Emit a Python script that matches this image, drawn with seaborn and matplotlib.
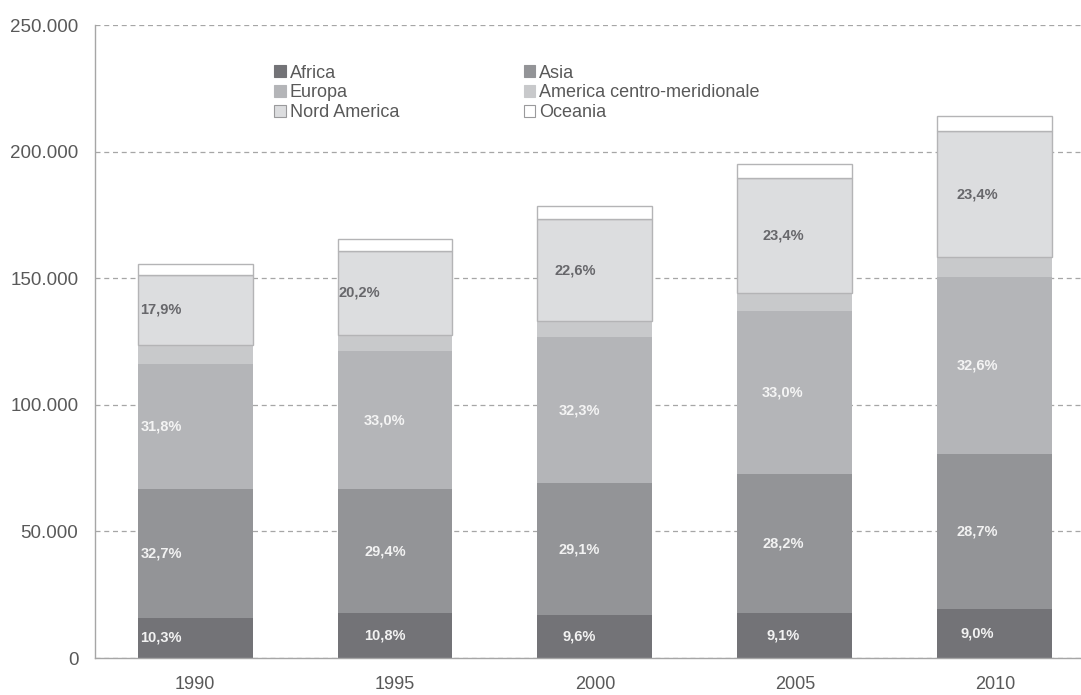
import matplotlib
matplotlib.use("Agg")
import matplotlib.pyplot as plt
import matplotlib.ticker as mticker
from matplotlib.patches import Patch
import numpy as np
import pandas as pd
import seaborn as sns

# Dati
anni = ["1990", "1995", "2000", "2005", "2010"]
africa = [16000, 17900, 17100, 17800, 19300]
asia = [50800, 48700, 51900, 55000, 61400]
europa = [49400, 54600, 57600, 64400, 69800]
am_centro_merid = [7400, 6300, 6400, 6900, 7700]
nord_america = [27800, 33400, 40300, 45600, 49900]
oceania = [4300, 4500, 5100, 5600, 6000]

# etichette percentuali mostrate sulle barre
lab_africa = ["10,3%", "10,8%", "9,6%", "9,1%", "9,0%"]
lab_asia = ["32,7%", "29,4%", "29,1%", "28,2%", "28,7%"]
lab_europa = ["31,8%", "33,0%", "32,3%", "33,0%", "32,6%"]
lab_nord_am = ["17,9%", "20,2%", "22,6%", "23,4%", "23,4%"]

serie = ["Africa", "Asia", "Europa", "America centro-meridionale", "Nord America", "Oceania"]
valori = [africa, asia, europa, am_centro_merid, nord_america, oceania]
colori = ["#737377", "#939497", "#b4b5b8", "#c8c9cb", "#dcdddf", "#ffffff"]
bordi = [None, None, None, None, "#b4b4b6", "#b4b4b6"]

sns.set_theme(style="white")
plt.rcParams["font.family"] = ["Liberation Sans", "DejaVu Sans"]

fig = plt.figure(figsize=(10.81, 6.95), dpi=100)
ax = fig.add_axes([0.0879, 0.0532, 0.925, 0.9108])

df = pd.DataFrame({"anno": anni})
base = np.zeros(len(anni))
for nome, val, col, ed in zip(serie, valori, colori, bordi):
    df[nome] = val
    kw = dict(edgecolor=ed, linewidth=1.0) if ed else dict(linewidth=0)
    sns.barplot(data=df, x="anno", y=nome, order=anni, color=col, saturation=1,
                width=0.575, bottom=base.copy(), ax=ax, **kw)
    base = base + np.array(val)

# Percentuali dentro i segmenti
xs = np.arange(len(anni))
dx = [-0.17, -0.05, -0.08, -0.06, -0.09]
cum = np.zeros(len(anni))
for val, labs, col in [(africa, lab_africa, "#f2f2f2"), (asia, lab_asia, "#f2f2f2")]:
    for i in range(len(anni)):
        ax.text(xs[i] + dx[i], cum[i] + val[i] / 2, labs[i], ha="center", va="center",
                fontsize=10.5, fontweight="bold", color=col)
    cum = cum + np.array(val)
for i in range(len(anni)):
    ax.text(xs[i] + dx[i], cum[i] + europa[i] / 2, lab_europa[i], ha="center", va="center",
            fontsize=10.5, fontweight="bold", color="#f4f4f4")
cum = cum + np.array(europa) + np.array(am_centro_merid)
dx_na = [-0.17, -0.18, -0.1, -0.06, -0.09]
for i in range(len(anni)):
    ax.text(xs[i] + dx_na[i], cum[i] + nord_america[i] / 2, lab_nord_am[i], ha="center",
            va="center", fontsize=10.5, fontweight="bold", color="#67676b")

# Assi
ax.set_ylim(0, 250000)
ax.set_xlim(-0.5, 4.5)
ax.yaxis.set_major_locator(mticker.MultipleLocator(50000))
ax.yaxis.set_major_formatter(mticker.FuncFormatter(lambda v, p: f"{int(v):,}".replace(",", ".")))
ax.set_xlabel("")
ax.set_ylabel("")
ax.grid(axis="y", color="#a6a6a6", linestyle=(0, (4, 3)), linewidth=0.9)
ax.set_axisbelow(True)
for s in ["top", "right"]:
    ax.spines[s].set_visible(False)
for s in ["left", "bottom"]:
    ax.spines[s].set_color("#a6a6a6")
    ax.spines[s].set_linewidth(1.0)
ax.tick_params(axis="y", length=0, pad=12, labelsize=13.5, labelcolor="#595959")
ax.tick_params(axis="x", length=0, pad=13, labelsize=13, labelcolor="#595959")

# Legenda su due colonne, riempita per righe
ordine = [0, 2, 4, 1, 3, 5]
handles = [Patch(facecolor=colori[k], edgecolor="#9a9a9c" if k >= 4 else colori[k], linewidth=0.8)
           for k in ordine]
ax.legend(handles, [serie[k] for k in ordine], ncol=2, loc="upper left",
          bbox_to_anchor=(0.172, 0.949), frameon=False, fontsize=13,
          handlelength=0.65, handleheight=0.65, handletextpad=0.2,
          columnspacing=6.9, labelspacing=0.15, labelcolor="#595959", borderaxespad=0)

plt.savefig("out.png", dpi=100)
